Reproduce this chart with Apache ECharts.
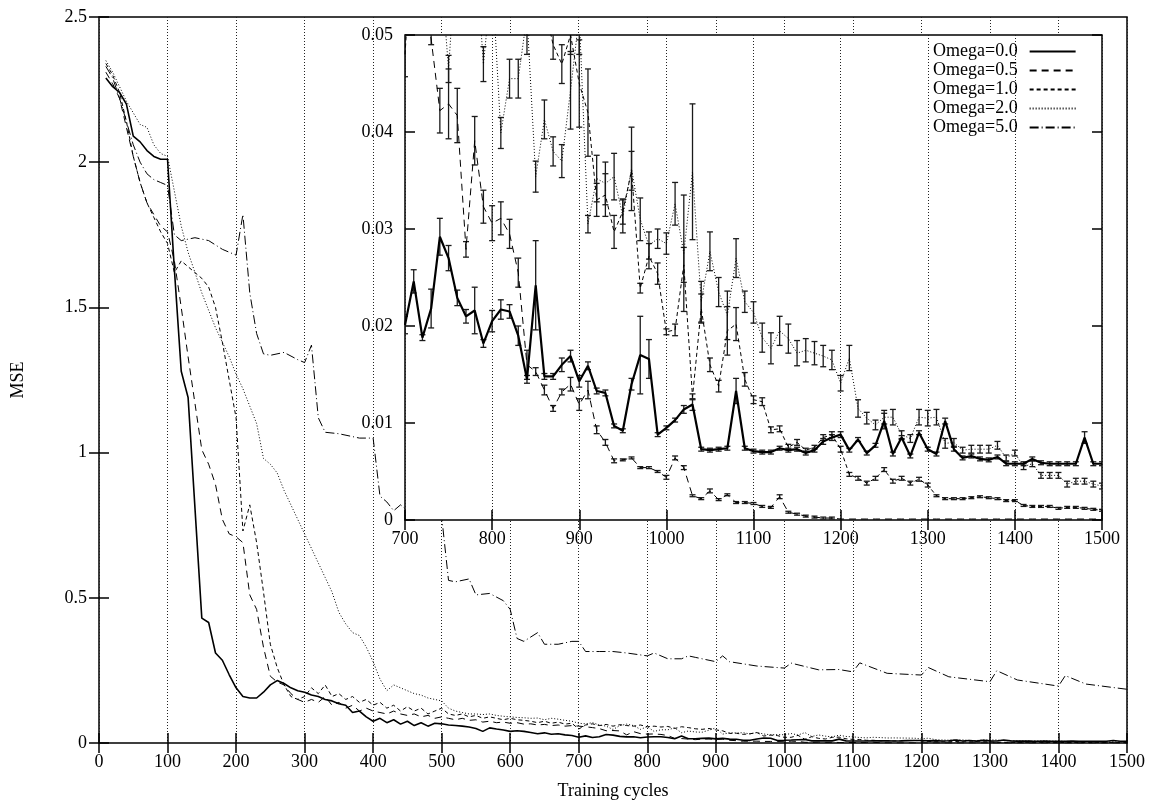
<!DOCTYPE html>
<html>
<head>
<meta charset="utf-8">
<script src="https://cdn.jsdelivr.net/npm/echarts@6/dist/echarts.min.js"></script>
<style>
html, body { margin: 0; padding: 0; background: #fff; }
#main { width: 1152px; height: 805px; }
</style>
</head>
<body>
<div id="main"></div>
<script>
// series names
var seriesNames = ['Omega=0.0', 'Omega=0.5', 'Omega=1.0', 'Omega=2.0', 'Omega=5.0'];

// main plot, cycles < 700 : [cycle, mse]
var omega00Early = [[10,2.29],[20,2.26],[30,2.24],[40,2.20],[50,2.09],[60,2.07],[70,2.04],[80,2.02],[90,2.01],[100,2.01],[110,1.63],[120,1.28],[130,1.19],[150,0.43],[160,0.415],[170,0.31],[180,0.285],[190,0.235],[200,0.19],[210,0.16],[220,0.155],[230,0.155],[240,0.175],[250,0.2],[260,0.215],[270,0.205],[280,0.19],[290,0.18],[300,0.175],[310,0.165],[320,0.16],[330,0.15],[340,0.145],[350,0.135],[360,0.13],[370,0.105],[380,0.11],[390,0.09],[400,0.075],[410,0.085],[420,0.07],[430,0.08],[440,0.065],[450,0.075],[460,0.06],[470,0.07],[480,0.058],[490,0.068],[500,0.066],[510,0.062],[520,0.06],[530,0.058],[540,0.055],[550,0.05],[560,0.04],[570,0.052],[580,0.048],[590,0.045],[600,0.04],[610,0.042],[620,0.04],[630,0.036],[640,0.032],[650,0.035],[660,0.03],[670,0.032],[680,0.028],[690,0.026]];
var omega05Early = [[10,2.31],[20,2.27],[30,2.22],[40,2.12],[50,2.02],[60,1.93],[70,1.86],[80,1.82],[90,1.78],[100,1.76],[110,1.66],[120,1.5],[130,1.33],[140,1.17],[150,1.01],[160,0.96],[170,0.89],[180,0.77],[190,0.72],[200,0.71],[210,0.69],[220,0.51],[230,0.46],[240,0.33],[250,0.23],[260,0.21],[270,0.2],[280,0.17],[290,0.15],[300,0.14],[310,0.15],[320,0.14],[330,0.16],[340,0.13],[350,0.14],[360,0.12],[370,0.13],[380,0.11],[390,0.12],[400,0.11],[410,0.105],[420,0.1],[430,0.11],[440,0.1],[450,0.095],[460,0.1],[470,0.09],[480,0.095],[490,0.085],[500,0.09],[510,0.085],[520,0.08],[530,0.085],[540,0.078],[550,0.08],[560,0.072],[570,0.075],[580,0.07],[590,0.072],[600,0.068],[610,0.07],[620,0.065],[630,0.066],[640,0.062],[650,0.064],[660,0.06],[670,0.062],[680,0.058],[690,0.06]];
var omega10Early = [[10,2.34],[20,2.3],[30,2.24],[40,2.14],[50,2.02],[60,1.93],[70,1.86],[80,1.81],[90,1.76],[100,1.72],[110,1.62],[120,1.66],[130,1.64],[140,1.62],[150,1.6],[160,1.57],[170,1.5],[180,1.38],[190,1.25],[200,1.12],[210,0.73],[220,0.82],[230,0.69],[240,0.52],[250,0.34],[260,0.26],[270,0.2],[280,0.16],[290,0.15],[300,0.16],[310,0.19],[320,0.17],[330,0.2],[340,0.16],[350,0.17],[360,0.15],[370,0.16],[380,0.14],[390,0.15],[400,0.13],[410,0.14],[420,0.12],[430,0.13],[440,0.11],[450,0.125],[460,0.11],[470,0.12],[480,0.1],[490,0.11],[500,0.12],[510,0.1],[520,0.095],[530,0.1],[540,0.09],[550,0.095],[560,0.085],[570,0.09],[580,0.085],[590,0.08],[600,0.085],[610,0.08],[620,0.078],[630,0.075],[640,0.07],[650,0.075],[660,0.068],[670,0.072],[680,0.065],[690,0.068]];
var omega20Early = [[10,2.35],[20,2.31],[30,2.26],[40,2.21],[50,2.17],[60,2.13],[70,2.12],[80,2.06],[90,2.03],[100,2.02],[110,1.9],[120,1.78],[130,1.69],[140,1.62],[150,1.55],[160,1.49],[170,1.43],[180,1.38],[190,1.33],[200,1.27],[210,1.22],[220,1.16],[230,1.1],[240,0.98],[250,0.96],[260,0.93],[270,0.87],[280,0.82],[290,0.77],[300,0.72],[310,0.67],[320,0.62],[330,0.57],[340,0.52],[350,0.45],[360,0.41],[370,0.38],[380,0.37],[390,0.33],[400,0.28],[410,0.22],[420,0.18],[430,0.2],[440,0.19],[450,0.18],[460,0.17],[470,0.165],[480,0.155],[490,0.15],[500,0.145],[510,0.12],[520,0.11],[530,0.105],[540,0.1],[550,0.1],[560,0.098],[570,0.1],[580,0.095],[590,0.092],[600,0.09],[610,0.088],[620,0.087],[630,0.085],[640,0.086],[650,0.08],[660,0.085],[670,0.082],[680,0.078],[690,0.075]];
// Omega=5.0 is only in the main plot
var omega50 = [[10,2.33],[20,2.29],[30,2.22],[40,2.14],[50,2.06],[60,2.0],[70,1.96],[80,1.94],[90,1.93],[100,1.92],[110,1.75],[120,1.73],[140,1.74],[160,1.73],[180,1.7],[200,1.68],[210,1.82],[220,1.55],[230,1.41],[240,1.34],[250,1.335],[270,1.345],[290,1.32],[300,1.31],[310,1.37],[320,1.12],[330,1.07],[350,1.065],[380,1.05],[400,1.05],[410,0.85],[420,0.83],[430,0.8],[440,0.82],[450,0.8],[460,0.8],[470,0.8],[480,0.8],[490,0.79],[500,0.78],[510,0.56],[520,0.555],[540,0.565],[550,0.51],[570,0.515],[590,0.49],[600,0.46],[610,0.36],[620,0.35],[640,0.38],[650,0.34],[670,0.34],[690,0.35],[700,0.35],[710,0.315],[730,0.315],[750,0.315],[770,0.31],[800,0.3],[810,0.31],[830,0.29],[850,0.29],[860,0.3],[870,0.295],[900,0.28],[910,0.3],[920,0.28],[960,0.265],[1000,0.258],[1010,0.275],[1050,0.252],[1080,0.253],[1100,0.245],[1110,0.276],[1150,0.24],[1200,0.234],[1210,0.26],[1240,0.228],[1300,0.211],[1310,0.249],[1340,0.217],[1400,0.196],[1410,0.232],[1440,0.203],[1500,0.185]];

// inset (and main) cycles >= 700
var insetCycles = [700,710,720,730,740,750,760,770,780,790,800,810,820,830,840,850,860,870,880,890,900,910,920,930,940,950,960,970,980,990,1000,1010,1020,1030,1040,1050,1060,1070,1080,1090,1100,1110,1120,1130,1140,1150,1160,1170,1180,1190,1200,1210,1220,1230,1240,1250,1260,1270,1280,1290,1300,1310,1320,1330,1340,1350,1360,1370,1380,1390,1400,1410,1420,1430,1440,1450,1460,1470,1480,1490,1500];

var omega00Late = [.0201,.0246,.0188,.0218,.0292,.0270,.0229,.0210,.0216,.0182,.0205,.0217,.0215,.0190,.0145,.0242,.0148,.0148,.0160,.0169,.0143,.0159,.0133,.0131,.0097,.0092,.0140,.0170,.0166,.0088,.0095,.0103,.0114,.0119,.0073,.0072,.0073,.0074,.0133,.0074,.0071,.0070,.0070,.0074,.0072,.0073,.0069,.0072,.0081,.0085,.0088,.0072,.0083,.0069,.0077,.0102,.0068,.0085,.0066,.0090,.0073,.0068,.0102,.0073,.0064,.0066,.0063,.0062,.0065,.0058,.0058,.0058,.0063,.0059,.0058,.0058,.0058,.0058,.0085,.0058,.0058];
var omega00Err  = [.0009,.0012,.0003,.0020,.0019,.0013,.0008,.0007,.0024,.0004,.0011,.0010,.0007,.0010,.0004,.0046,.0003,.0003,.0007,.0006,.0006,.0004,.0003,.0003,.0002,.0002,.0006,.0040,.0020,.0002,.0002,.0002,.0004,.0006,.0002,.0002,.0002,.0002,.0013,.0002,.0002,.0002,.0002,.0002,.0002,.0002,.0002,.0002,.0003,.0003,.0003,.0002,.0002,.0002,.0002,.0008,.0002,.0002,.0002,.0002,.0002,.0002,.0003,.0002,.0002,.0002,.0002,.0002,.0002,.0002,.0002,.0002,.0002,.0002,.0002,.0002,.0002,.0002,.0006,.0002,.0002];

var omega05Late = [.058,.056,.053,.0496,.0422,.0429,.0417,.0279,.0391,.0323,.0306,.0311,.0295,.0255,.0160,.0153,.0134,.0115,.0132,.0140,.0119,.0134,.0093,.0080,.0061,.0062,.0064,.0054,.0054,.0050,.0044,.0064,.0054,.0025,.0022,.0030,.0021,.0026,.0018,.0018,.0017,.0014,.0013,.0024,.0008,.0006,.0004,.0003,.0002,.0002,.0001,.0001,.0001,.0001,.0001,.0001,.0001,.0001,.0001,.0001,.0001,.0001,.0001,.0001,.0001,.0001,.0001,.0001,.0001,.0001,.0001,.0001,.0001,.0001,.0001,.0001,.0001,.0001,.0001,.0001,.0001];
var omega05Err  = [0,0,0,.0006,.0023,.0036,.0028,.0008,.0025,.0017,.0018,.0017,.0015,.0015,.0015,.0004,.0005,.0003,.0003,.0007,.0006,.0009,.0004,.0003,.0002,.0001,.0001,.0001,.0001,.0001,.0002,.0002,.0002,.0001,.0001,.0002,.0001,.0001,.0001,.0001,.0001,.0001,.0001,.0002,.0001,.0001,.0001,.0001,.0001,.0001,0,0,0,0,0,0,0,0,0,0,0,0,0,0,0,0,0,0,0,0,0,0,0,0,0,0,0,0,0,0,0];

var omega10Late = [.048,.062,.066,.060,.064,.058,.063,.060,.058,.062,.056,.058,.055,.057,.050,.056,.053,.049,.047,.050,.045,.042,.033,.0335,.0297,.0318,.036,.0239,.0272,.0254,.0194,.0196,.0263,.0127,.0218,.0160,.0138,.0195,.0202,.0145,.0124,.0122,.0093,.0094,.0075,.0080,.0072,.0075,.0085,.0088,.0073,.0047,.0043,.0038,.0043,.0052,.0040,.0043,.0038,.0042,.0036,.0025,.0022,.0022,.0022,.0023,.0024,.0023,.0022,.0020,.0020,.0015,.0014,.0014,.0014,.0012,.0013,.0013,.0012,.0011,.0010];
var omega10Err  = [.0023,.002,.002,.002,.002,.002,.002,.002,.002,.002,.002,.002,.002,.002,.002,.002,.002,.0015,.002,.002,.0045,.0045,.0017,.0022,.0017,.0013,.0020,.0005,.0013,.0011,.0003,.0006,.0018,.0003,.0015,.0007,.0006,.0025,.0017,.0007,.0004,.0004,.0003,.0003,.0003,.0003,.0002,.0002,.0003,.0003,.0003,.0002,.0002,.0002,.0002,.0002,.0002,.0002,.0002,.0002,.0002,.0001,.0001,.0001,.0001,.0001,.0001,.0001,.0001,.0001,.0001,.0001,.0001,.0001,.0001,.0001,.0001,.0001,.0001,.0001,.0001];

var omega20Late = [.068,.066,.070,.062,.058,.0465,.060,.065,.060,.047,.056,.0399,.0455,.0455,.052,.0354,.0413,.038,.037,.0443,.052,.0305,.0352,.0347,.0354,.0313,.0362,.031,.0283,.029,.0285,.0326,.0275,.0359,.0225,.0277,.0235,.0211,.027,.0225,.0214,.0188,.0177,.0195,.0187,.0172,.0175,.0172,.0169,.0165,.0141,.0167,.0115,.0105,.0098,.0106,.0106,.0088,.0084,.0106,.0105,.0106,.0079,.0080,.0072,.0073,.0073,.0073,.0077,.0064,.0069,.0055,.0058,.0046,.0046,.0046,.0037,.0040,.0040,.0037,.0035];
var omega20Err  = [.002,.002,.002,.002,.002,.0014,.002,.002,.002,.0018,.002,.0016,.002,.002,.002,.0016,.002,.0015,.0017,.004,.004,.0009,.0024,.0022,.0024,.0017,.0043,.0022,.0014,.0010,.0011,.0022,.006,.007,.0021,.002,.0015,.0025,.002,.0011,.0011,.0015,.0016,.0015,.0015,.0013,.0012,.0012,.0011,.0010,.0008,.0013,.0009,.0006,.0005,.0007,.0008,.0004,.0004,.0008,.0008,.0008,.0005,.0004,.0003,.0004,.0004,.0004,.0004,.0003,.0003,.0003,.0003,.0003,.0003,.0003,.0003,.0003,.0003,.0003,.0003];

var serifFont = "'Liberation Serif', 'Times New Roman', serif";

function latePairs(values) {
	return insetCycles.map(function (x, i) { return [x, values[i]]; });
}
// [cycle, low, high] for the custom error bar series
function errorRows(values, errs) {
	var rows = [];
	for (var i = 0; i < insetCycles.length; i++) {
		if (errs[i] > 0) {
			rows.push([insetCycles[i], values[i] - errs[i], values[i] + errs[i]]);
		}
	}
	return rows;
}
// vertical bar with small caps, like gnuplot errorlines
function renderErrorBar(params, api) {
	var x = api.value(0);
	var low = api.coord([x, api.value(1)]);
	var high = api.coord([x, api.value(2)]);
	var half = 3;
	var style = { stroke: '#1a1a1a', lineWidth: 1.3, fill: null };
	return {
		type: 'group',
		children: [
			{ type: 'line', shape: { x1: low[0], y1: low[1], x2: high[0], y2: high[1] }, style: style },
			{ type: 'line', shape: { x1: low[0] - half, y1: low[1], x2: low[0] + half, y2: low[1] }, style: style },
			{ type: 'line', shape: { x1: high[0] - half, y1: high[1], x2: high[0] + half, y2: high[1] }, style: style }
		]
	};
}
// plain numbers, no thousands separator
function plainLabel(v) {
	return String(v);
}

var dashes = ['solid', [7, 5], [4, 3], [1, 2], [9, 3, 1, 3]];

function xAxisConf(grid, pos, min, max, labels, split, zl) {
	return {
		type: 'value', gridIndex: grid, position: pos, min: min, max: max, interval: 100, zlevel: zl,
		axisLine: { show: false },
		axisTick: { show: true, inside: true, length: 10, lineStyle: { color: '#000', width: 1.5 } },
		axisLabel: { show: labels, color: '#000', fontFamily: serifFont, fontSize: 18, margin: 10, formatter: plainLabel },
		splitLine: { show: split, lineStyle: { color: '#222', width: 1, type: [1, 2] } }
	};
}
function yAxisConf(grid, pos, max, step, labels, zl) {
	return {
		type: 'value', gridIndex: grid, position: pos, min: 0, max: max, interval: step, zlevel: zl,
		axisLine: { show: false },
		axisTick: { show: true, inside: true, length: 10, lineStyle: { color: '#000', width: 1.5 } },
		axisLabel: { show: labels, color: '#000', fontFamily: serifFont, fontSize: 18, margin: 12 },
		splitLine: { show: false }
	};
}

var xAxes = [
	xAxisConf(0, 'bottom', 0, 1500, true, true, 0),
	xAxisConf(0, 'top', 0, 1500, false, false, 0),
	xAxisConf(1, 'bottom', 700, 1500, true, true, 1),
	xAxisConf(1, 'top', 700, 1500, false, false, 1)
];
xAxes[0].name = 'Training cycles';
xAxes[0].nameLocation = 'middle';
xAxes[0].nameGap = 39;
xAxes[0].nameTextStyle = { color: '#000', fontFamily: serifFont, fontSize: 18 };

var yAxes = [
	yAxisConf(0, 'left', 2.5, 0.5, true, 0),
	yAxisConf(0, 'right', 2.5, 0.5, false, 0),
	yAxisConf(1, 'left', 0.05, 0.01, true, 1),
	yAxisConf(1, 'right', 0.05, 0.01, false, 1)
];
yAxes[0].name = 'MSE';
yAxes[0].nameLocation = 'middle';
yAxes[0].nameRotate = 90;
yAxes[0].nameGap = 72;
yAxes[0].nameTextStyle = { color: '#000', fontFamily: serifFont, fontSize: 18 };

var mainData = [
	omega00Early.concat(latePairs(omega00Late)),
	omega05Early.concat(latePairs(omega05Late)),
	omega10Early.concat(latePairs(omega10Late)),
	omega20Early.concat(latePairs(omega20Late)),
	omega50
];
var insetValues = [omega00Late, omega05Late, omega10Late, omega20Late];
var insetErrs = [omega00Err, omega05Err, omega10Err, omega20Err];

var series = [];
// main plot lines
for (var i = 0; i < 5; i++) {
	series.push({
		name: seriesNames[i], type: 'line', xAxisIndex: 0, yAxisIndex: 0,
		data: mainData[i], symbol: 'none', silent: true,
		lineStyle: { color: '#000', width: i === 0 ? 1.6 : 1, type: dashes[i] }
	});
}
// inset lines with error bars
for (var j = 0; j < 4; j++) {
	series.push({
		name: seriesNames[j], type: 'line', xAxisIndex: 2, yAxisIndex: 2, zlevel: 1,
		data: latePairs(insetValues[j]), symbol: 'none', silent: true, clip: true,
		lineStyle: { color: '#000', width: j === 0 ? 2.2 : 1, type: dashes[j] }
	});
	series.push({
		type: 'custom', xAxisIndex: 2, yAxisIndex: 2, zlevel: 1, clip: true, silent: true,
		renderItem: renderErrorBar,
		encode: { x: 0, y: [1, 2] },
		data: errorRows(insetValues[j], insetErrs[j])
	});
}

var option = {
	backgroundColor: '#fff',
	animation: false,
	grid: [
		{ left: 99, top: 17, width: 1028, height: 730, show: true, borderColor: '#000', borderWidth: 1.5, backgroundColor: 'transparent' },
		{ left: 405, top: 35, width: 697, height: 485, show: true, borderColor: '#000', borderWidth: 1.5, backgroundColor: '#fff', zlevel: 1 }
	],
	legend: {
		zlevel: 1, orient: 'vertical', left: 928, top: 37, align: 'right',
		itemWidth: 46, itemHeight: 10, itemGap: 0, selectedMode: false,
		itemStyle: { opacity: 0 },
		textStyle: { color: '#000', fontFamily: serifFont, fontSize: 18, lineHeight: 19, padding: [0, 7, 0, 0] },
		data: seriesNames
	},
	xAxis: xAxes,
	yAxis: yAxes,
	series: series
};

var chart = echarts.init(document.getElementById('main'));
chart.setOption(option);
</script>
</body>
</html>
